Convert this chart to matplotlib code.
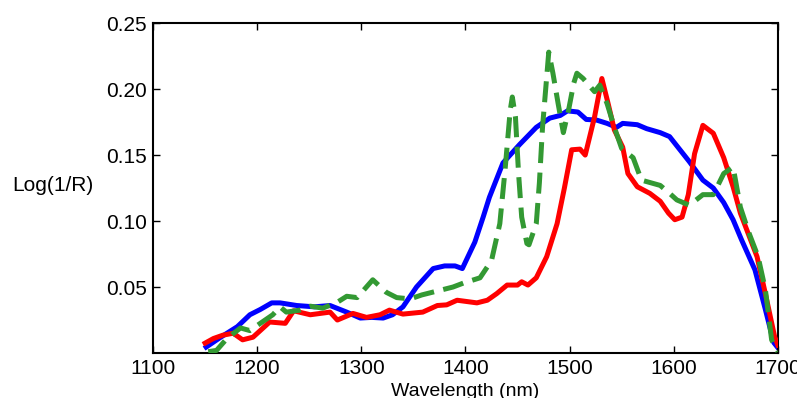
import numpy as np
import matplotlib
matplotlib.use('Agg')
import matplotlib.pyplot as plt

plt.rcParams['font.family'] = ['Liberation Sans', 'DejaVu Sans']

# Blue spectrum
wl_blue = [1151, 1165, 1181, 1193, 1203, 1214, 1222, 1238, 1255, 1270, 1286, 1299, 1310,
           1321, 1330, 1340, 1353, 1369, 1380, 1390, 1397, 1409, 1417, 1423, 1436, 1452,
           1468, 1481, 1491, 1498, 1508, 1516, 1526, 1536, 1545, 1551, 1565, 1574, 1587,
           1596, 1606, 1615, 1628, 1638, 1648, 1657, 1665, 1678, 1688, 1696, 1700]
val_blue = [0.0045, 0.012, 0.020, 0.029, 0.033, 0.038, 0.038, 0.036, 0.035, 0.036, 0.031,
            0.0265, 0.027, 0.0265, 0.029, 0.035, 0.050, 0.064, 0.066, 0.066, 0.064, 0.084,
            0.103, 0.118, 0.144, 0.158, 0.171, 0.178, 0.180, 0.1835, 0.1826, 0.177, 0.1765,
            0.174, 0.171, 0.174, 0.173, 0.170, 0.167, 0.164, 0.154, 0.145, 0.131, 0.125,
            0.114, 0.101, 0.086, 0.063, 0.033, 0.008, 0.004]

# Red spectrum
wl_red = [1150, 1158, 1167, 1177, 1186, 1196, 1212, 1227, 1235, 1251, 1270, 1277, 1292,
          1305, 1318, 1327, 1340, 1359, 1373, 1382, 1392, 1411, 1421, 1430, 1440, 1450,
          1454, 1460, 1468, 1478, 1488, 1495, 1502, 1510, 1515, 1524, 1531, 1537, 1543,
          1551, 1556, 1565, 1577, 1587, 1595, 1601, 1608, 1614, 1620, 1628, 1638, 1648,
          1657, 1664, 1680, 1688, 1697, 1700]
val_red = [0.0075, 0.011, 0.0135, 0.015, 0.010, 0.012, 0.0235, 0.0225, 0.032, 0.029, 0.031,
           0.025, 0.030, 0.027, 0.029, 0.0325, 0.0295, 0.031, 0.036, 0.0365, 0.040, 0.038,
           0.040, 0.045, 0.0515, 0.0515, 0.054, 0.0515, 0.057, 0.073, 0.098, 0.125, 0.154,
           0.1545, 0.150, 0.179, 0.208, 0.189, 0.169, 0.156, 0.136, 0.126, 0.121, 0.115,
           0.106, 0.101, 0.103, 0.120, 0.151, 0.1725, 0.1665, 0.148, 0.126, 0.106, 0.073,
           0.045, 0.012, 0.006]

# Green spectrum (dashed)
wl_green = [1153, 1161, 1171, 1184, 1193, 1203, 1215, 1222, 1228, 1241, 1251, 1263, 1277,
            1286, 1296, 1311, 1324, 1334, 1347, 1358, 1368, 1378, 1388, 1398, 1414, 1425,
            1433, 1438, 1443, 1445, 1448, 1451, 1454, 1459, 1461, 1468, 1471, 1474, 1478,
            1480, 1484, 1489, 1494, 1499, 1504, 1507, 1513, 1524, 1529, 1536, 1543, 1550,
            1561, 1569, 1587, 1596, 1603, 1615, 1628, 1638, 1648, 1657, 1664, 1672, 1681,
            1688, 1694, 1700]
val_green = [0.001, 0.002, 0.011, 0.019, 0.017, 0.0225, 0.029, 0.035, 0.031, 0.0325, 0.0355,
             0.034, 0.0385, 0.043, 0.042, 0.0555, 0.046, 0.042, 0.041, 0.044, 0.046, 0.048,
             0.050, 0.053, 0.057, 0.070, 0.098, 0.1385, 0.184, 0.194, 0.179, 0.136, 0.103,
             0.083, 0.082, 0.098, 0.129, 0.171, 0.209, 0.228, 0.212, 0.189, 0.167, 0.184,
             0.2045, 0.212, 0.208, 0.198, 0.203, 0.189, 0.171, 0.155, 0.148, 0.131, 0.127,
             0.121, 0.116, 0.112, 0.120, 0.120, 0.136, 0.141, 0.1105, 0.0915, 0.073, 0.048,
             0.010, 0.001]

x_ticks = [1100, 1200, 1300, 1400, 1500, 1600, 1700]
y_ticks = [0.05, 0.10, 0.15, 0.20, 0.25]

fig = plt.figure(figsize=(7.97, 3.98), dpi=100)
ax = fig.add_axes([0.192, 0.113, 0.784, 0.829])

ax.plot(wl_blue, val_blue, color='#0000ff', linewidth=3.6, zorder=2)
ax.plot(wl_red, val_red, color='#ff0000', linewidth=3.6, zorder=3)
ax.plot(wl_green, val_green, color='#339933', linewidth=3.6, linestyle='--',
        dashes=(4.2, 1.9), zorder=4)

ax.set_xlim(1100, 1700)
ax.set_ylim(0, 0.25)
ax.set_xticks(x_ticks)
ax.set_yticks(y_ticks)
ax.set_yticklabels(['%.2f' % v for v in y_ticks])

ax.tick_params(direction='in', top=True, right=True, length=5, width=1,
               labelsize=15)
ax.tick_params(axis='x', pad=4.5)
ax.tick_params(axis='y', pad=4.3)
for s in ax.spines.values():
    s.set_linewidth(1.5)

ax.set_xlabel('Wavelength (nm)', fontsize=14, va='top')
ax.xaxis.set_label_coords(0.5, -0.09)
ax.set_ylabel('Log(1/R)', fontsize=15, rotation=0, ha='center', va='center')
ax.yaxis.set_label_coords(-0.16, 0.509)

fig.savefig('out.png', dpi=100)
